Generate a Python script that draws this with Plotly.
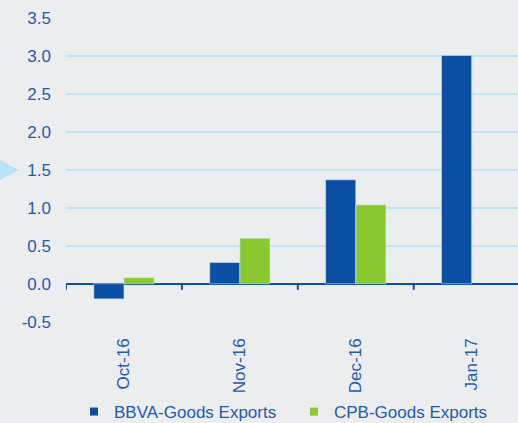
import plotly.graph_objects as go

months = ["Oct-16", "Nov-16", "Dec-16", "Jan-17"]
bbva = [-0.2, 0.28, 1.37, 3.01]
cpb = [0.08, 0.6, 1.04, None]
y_ticks = [-0.5, 0.0, 0.5, 1.0, 1.5, 2.0, 2.5, 3.0, 3.5]
y_labels = ["-0.5", "0.0", "0.5", "1.0", "1.5", "2.0", "2.5", "3.0", "3.5"]

navy = "#0A4FA3"
green = "#8AC832"
txt = "#1E5AAE"
grid = "#BDE4F6"
bg = "#EBEDEF"

fig = go.Figure()
fig.add_bar(x=months, y=bbva, name="BBVA-Goods Exports", marker_color=navy,
            showlegend=False)
fig.add_bar(x=months, y=cpb, name="CPB-Goods Exports", marker_color=green,
            showlegend=False)
# legend entries with small square keys
for name, col in [("BBVA-Goods Exports", navy), ("CPB-Goods Exports", green)]:
    fig.add_scatter(x=[None], y=[None], mode="markers", name=name,
                    marker=dict(symbol="square", size=8, color=col))

# small downward ticks on the zero line between categories
for i in range(len(months) + 1):
    fig.add_shape(type="line", xref="x", yref="y", x0=i - 0.5, x1=i - 0.5,
                  y0=0, y1=-0.08, line=dict(color=navy, width=2))

# light blue pointer on the left edge
fig.add_shape(type="path", xref="paper", yref="y", xsizemode="pixel", ysizemode="pixel",
              xanchor=0, yanchor=1.5, path="M -80,17 L -47,0 L -80,-17 Z",
              fillcolor="#B8E2F6", line=dict(width=0), layer="below")

fig.update_layout(
    width=518, height=423,
    margin=dict(l=66, r=0, t=18, b=101, autoexpand=False),
    paper_bgcolor=bg, plot_bgcolor=bg,
    font=dict(family="Liberation Sans, Arial, sans-serif", size=17, color=txt),
    barmode="group", bargap=0.48, bargroupgap=0,
    showlegend=True,
    legend=dict(orientation="h", x=74 / 518, xanchor="left", xref="container",
                y=0.026, yanchor="middle", yref="container",
                font=dict(size=17, color=txt), itemwidth=30,
                entrywidth=175, entrywidthmode="pixels",
                bgcolor="rgba(0,0,0,0)"),
)
fig.update_xaxes(range=[-0.5, 3.4], tickangle=-90, showgrid=False, showline=False,
                 ticks="", ticklabelstandoff=12, automargin=False, fixedrange=True)
fig.update_yaxes(range=[-0.505, 3.505], tickvals=y_ticks, ticktext=y_labels,
                 showgrid=True, gridcolor=grid, gridwidth=2,
                 zeroline=True, zerolinecolor=navy, zerolinewidth=2,
                 showline=False, ticks="", ticklabelstandoff=14, automargin=False,
                 fixedrange=True)

fig.write_html("out.html", config={"displayModeBar": False},
               post_script="document.body.style.margin='0';")
